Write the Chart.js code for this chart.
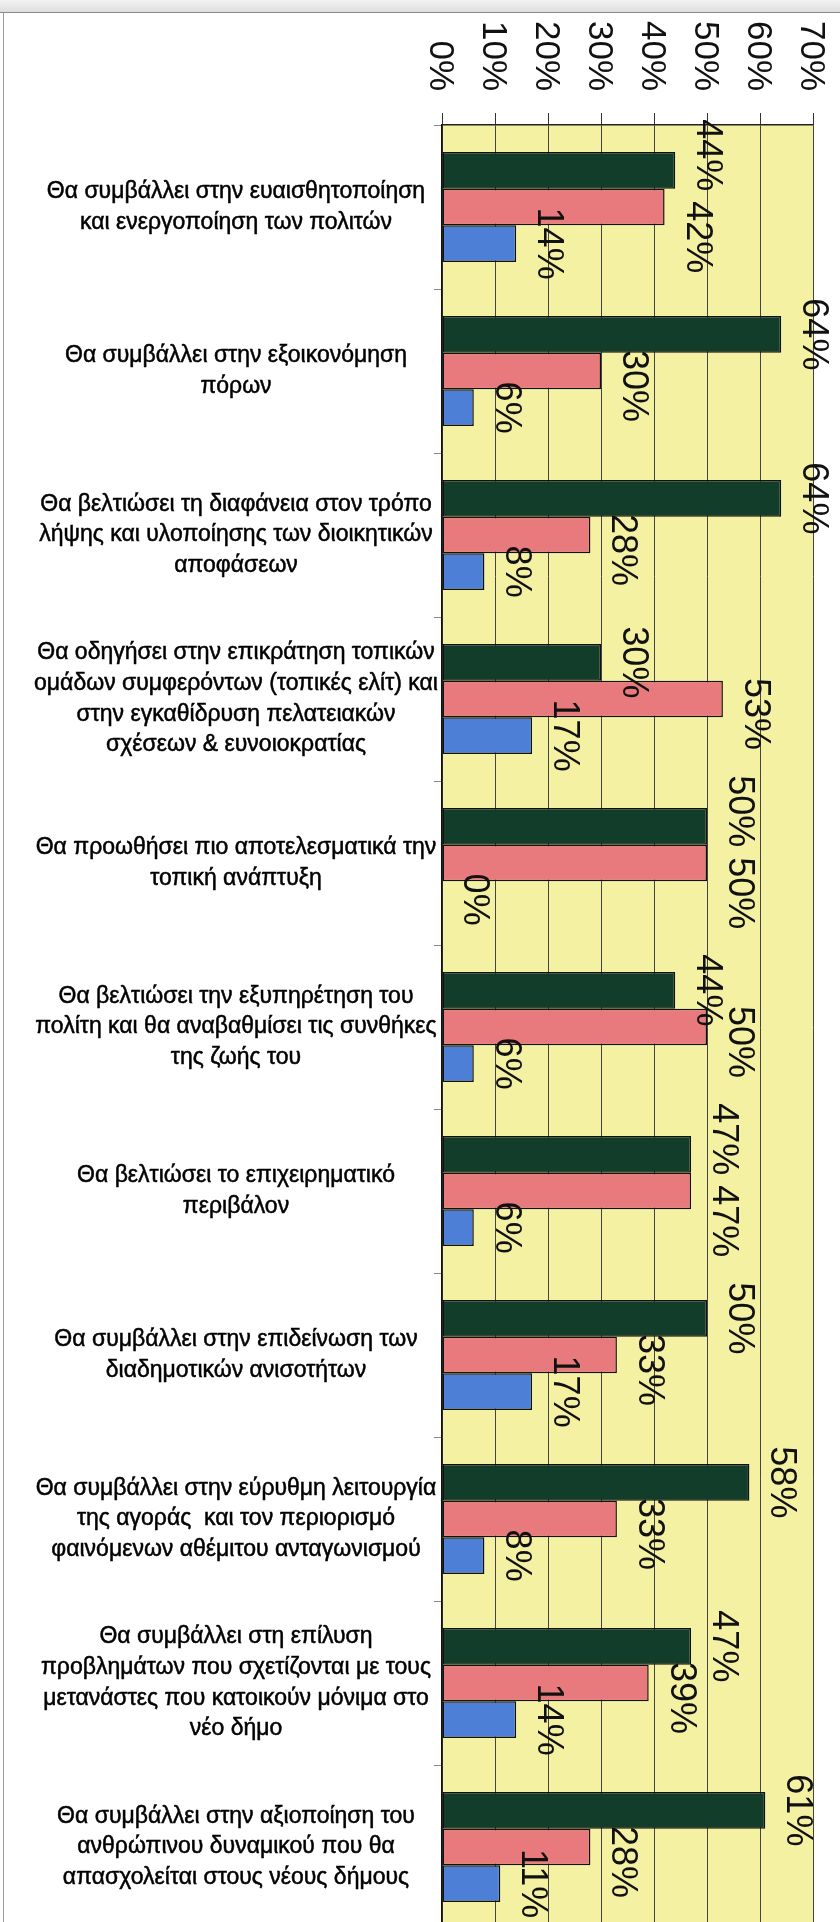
<!DOCTYPE html>
<html><head><meta charset="utf-8">
<script src="https://cdn.jsdelivr.net/npm/chart.js@4.4.1/dist/chart.umd.min.js"></script>
<style>
html,body{margin:0;padding:0;background:#fff;}
#wrap{position:relative;width:840px;height:1922px;overflow:hidden;background:#fff;}
#topbar{position:absolute;left:0;top:0;width:840px;height:12px;background:linear-gradient(#f3f3f3,#dedede);border-bottom:1px solid #8a8a8a;}
#leftline{position:absolute;left:3px;top:12px;width:1px;height:1910px;background:#9a9a9a;}
canvas{position:absolute;left:0;top:0;}
</style></head><body>
<div id="wrap"><canvas id="c" width="840" height="1930"></canvas><div id="topbar"></div><div id="leftline"></div></div>
<script>
const categories = [
  ["Θα συμβάλλει στην ευαισθητοποίηση","και ενεργοποίηση των πολιτών"],
  ["Θα συμβάλλει στην εξοικονόμηση","πόρων"],
  ["Θα βελτιώσει τη διαφάνεια στον τρόπο","λήψης και υλοποίησης των διοικητικών","αποφάσεων"],
  ["Θα οδηγήσει στην επικράτηση τοπικών","ομάδων συμφερόντων (τοπικές ελίτ) και","στην εγκαθίδρυση πελατειακών","σχέσεων & ευνοιοκρατίας"],
  ["Θα προωθήσει πιο αποτελεσματικά την","τοπική ανάπτυξη"],
  ["Θα βελτιώσει την εξυπηρέτηση του","πολίτη και θα αναβαθμίσει τις συνθήκες","της ζωής του"],
  ["Θα βελτιώσει το επιχειρηματικό","περιβάλον"],
  ["Θα συμβάλλει στην επιδείνωση των","διαδημοτικών ανισοτήτων"],
  ["Θα συμβάλλει στην εύρυθμη λειτουργία","της αγοράς  και τον περιορισμό","φαινόμενων αθέμιτου ανταγωνισμού"],
  ["Θα συμβάλλει στη επίλυση","προβλημάτων που σχετίζονται με τους","μετανάστες που κατοικούν μόνιμα στο","νέο δήμο"],
  ["Θα συμβάλλει στην αξιοποίηση του","ανθρώπινου δυναμικού που θα","απασχολείται στους νέους δήμους"]
];
const seriesGreen = [44, 64, 64, 30, 50, 44, 47, 50, 58, 47, 61];
const seriesPink  = [42, 30, 28, 53, 50, 50, 47, 33, 33, 39, 28];
const seriesBlue  = [14, 6, 8, 17, 0, 6, 6, 17, 8, 14, 11];
const tickLabels = ["0%","10%","20%","30%","40%","50%","60%","70%"];

const FONT = '"Liberation Sans", Arial, sans-serif';

const plotBg = {
  id: 'plotBg',
  beforeDraw(chart) {
    const {ctx, chartArea: a} = chart;
    ctx.save();
    ctx.fillStyle = '#F5F1A3';
    ctx.fillRect(a.left, a.top, a.right - a.left, a.bottom - a.top);
    ctx.restore();
  }
};

const customText = {
  id: 'customText',
  afterDraw(chart) {
    const ctx = chart.ctx;
    const xs = chart.scales.x, ys = chart.scales.y;
    ctx.save();
    ctx.fillStyle = '#111';
    // value axis tick labels, rotated
    ctx.font = '35px ' + FONT;
    xs.ticks.forEach((t, i) => {
      const gx = xs.getPixelForValue(t.value);
      ctx.save();
      ctx.translate(gx - 12.5, 91);
      ctx.rotate(Math.PI / 2);
      ctx.textAlign = 'right';
      ctx.textBaseline = 'alphabetic';
      ctx.fillText(tickLabels[i] !== undefined ? tickLabels[i] : t.value + '%', 0, 0);
      ctx.restore();
    });
    // category labels
    ctx.font = '23px ' + FONT;
    ctx.fillStyle = '#000';
    ctx.strokeStyle = '#000';
    ctx.lineWidth = 0.5;
    ctx.textAlign = 'center';
    ctx.textBaseline = 'middle';
    const lh = 30.6;
    categories.forEach((lines, i) => {
      const cy = ys.getPixelForValue(i);
      const n = lines.length;
      lines.forEach((ln, k) => {
        const y = cy + (k - (n - 1) / 2) * lh;
        ctx.fillText(ln, 236, y);
        ctx.strokeText(ln, 236, y);
      });
    });
    // data labels
    ctx.fillStyle = '#111';
    ctx.font = '36px ' + FONT;
    const capH = 26, gap = 10;
    const dyBySeries = [0, 15, 0];
    for (let i = 0; i < categories.length; i++) {
      const items = chart.data.datasets.map((ds, d) => {
        const el = chart.getDatasetMeta(d).data[i];
        const txt = ds.data[i] + '%';
        const len = ctx.measureText(txt).width;
        const x0 = el.x + 22;
        return {txt, len, x0, x1: x0 + capH, cy: el.y + dyBySeries[d]};
      });
      for (let k = 0; k < items.length - 1; k++) {
        const a = items[k], b = items[k + 1];
        const xo = a.x0 < b.x1 && b.x0 < a.x1;
        const ov = (a.cy + a.len / 2) - (b.cy - b.len / 2) + gap;
        if (xo && ov > 0) { a.cy -= ov / 2; b.cy += ov / 2; }
      }
      items.forEach(it => {
        ctx.save();
        ctx.translate(it.x0, it.cy);
        ctx.rotate(Math.PI / 2);
        ctx.textAlign = 'center';
        ctx.textBaseline = 'alphabetic';
        ctx.fillText(it.txt, 0, 0);
        ctx.restore();
      });
    }
    ctx.restore();
  }
};

new Chart(document.getElementById('c'), {
  type: 'bar',
  data: {
    labels: categories,
    datasets: [
      {data: seriesGreen, backgroundColor: '#123D2A'},
      {data: seriesPink, backgroundColor: '#E87A7E'},
      {data: seriesBlue, backgroundColor: '#4E7FD6'}
    ].map(d => Object.assign(d, {borderColor: '#111', borderWidth: 1.5, borderSkipped: false, categoryPercentage: 0.67, barPercentage: 1.0}))
  },
  options: {
    indexAxis: 'y',
    responsive: false,
    animation: false,
    devicePixelRatio: 1,
    layout: {padding: {left: 0, right: 27, top: 0, bottom: 1}},
    plugins: {legend: {display: false}, tooltip: {enabled: false}},
    scales: {
      x: {
        type: 'linear', position: 'top', min: 0, max: 70,
        ticks: {display: false, stepSize: 10},
        grid: {color: '#444', lineWidth: 1, drawTicks: true, tickLength: 12, tickColor: '#333'},
        border: {display: true, color: '#222', width: 1.5},
        afterFit(s) { s.height = 125; }
      },
      y: {
        type: 'category', position: 'left',
        ticks: {display: false},
        grid: {drawOnChartArea: false, drawTicks: true, tickLength: 8, color: '#8a8a8a', offset: true},
        border: {display: true, color: '#111', width: 1.5},
        afterFit(s) { s.width = 442; }
      }
    }
  },
  plugins: [plotBg, customText]
});
</script>
</body></html>
